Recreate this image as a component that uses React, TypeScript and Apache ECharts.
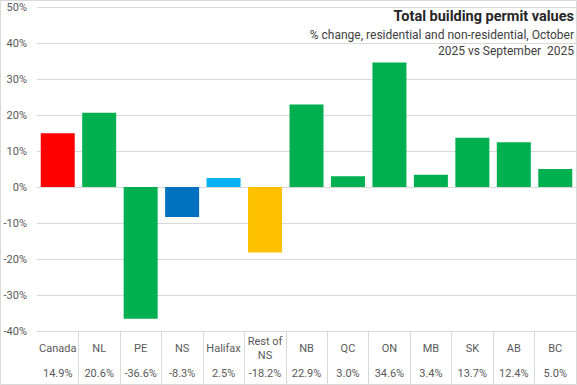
import React, { useEffect, useRef } from "react";
import * as echarts from "echarts";

const categories = ["Canada", "NL", "PE", "NS", "Halifax", "Rest of NS", "NB", "QC", "ON", "MB", "SK", "AB", "BC"];
const values = [14.9, 20.6, -36.6, -8.3, 2.5, -18.2, 22.9, 3.0, 34.6, 3.4, 13.7, 12.4, 5.0];
const barColors = ["#FF0000", "#00B050", "#00B050", "#0070C0", "#00B0F0", "#FFC000", "#00B050", "#00B050", "#00B050", "#00B050", "#00B050", "#00B050", "#00B050"];
const yTicks = { min: -40, max: 50, interval: 10 };
const titleText = "Total building permit values";
const subtitleLines = ["% change, residential and non-residential, October", "2025 vs September  2025"];

const FONT = "Roboto, 'Noto Sans', sans-serif";

export default function App() {
  const ref = useRef<HTMLDivElement>(null);
  useEffect(() => {
    document.body.style.margin = "0";
    if (!ref.current) return;
    const chart = echarts.init(ref.current, undefined, { renderer: "svg" });
    const gridColor = "#d9d9d9";
    const labelColor = "#595959";
    chart.setOption({
      animation: false,
      textStyle: { fontFamily: FONT },
      grid: { left: 37, right: 1, top: 7, bottom: 54, containLabel: false },
      xAxis: [
        {
          type: "category",
          data: categories,
          position: "bottom",
          axisLine: { show: true, onZero: false, lineStyle: { color: gridColor } },
          axisTick: {
            show: true,
            length: 53,
            interval: (i: number) => i !== 0,
            lineStyle: { color: gridColor },
          },
          axisLabel: {
            interval: 0,
            margin: 17,
            verticalAlign: "middle",
            lineHeight: 14,
            fontSize: 11,
            color: labelColor,
            fontFamily: FONT,
            formatter: (v: string) => v.replace("Rest of ", "Rest of\n"),
          },
        },
        {
          type: "category",
          data: categories,
          position: "bottom",
          offset: 52,
          axisLine: { show: false, onZero: false },
          axisTick: { show: false },
          axisLabel: {
            interval: 0,
            margin: -10,
            verticalAlign: "middle",
            fontSize: 11,
            color: labelColor,
            fontFamily: FONT,
            formatter: (_v: string, i: number) => values[i].toFixed(1) + "%",
          },
        },
      ],
      yAxis: {
        type: "value",
        min: yTicks.min,
        max: yTicks.max,
        interval: yTicks.interval,
        axisLine: { show: false },
        axisTick: { show: false },
        splitLine: { lineStyle: { color: gridColor } },
        axisLabel: { formatter: "{value}%", fontSize: 11, color: labelColor, margin: 10, fontFamily: FONT },
      },
      series: [
        {
          type: "bar",
          xAxisIndex: 0,
          data: values.map((v, i) => ({ value: v, itemStyle: { color: barColors[i] } })),
          barCategoryGap: "18%",
        },
      ],
      graphic: [
        {
          type: "rect",
          shape: { x: 0.5, y: 0.5, width: 576, height: 384 },
          style: { fill: "none", stroke: gridColor, lineWidth: 1 },
          silent: true,
        },
        {
          type: "text",
          x: 574,
          y: 16,
          style: { text: titleText, textAlign: "right", textVerticalAlign: "middle", fontSize: 14.5, fontWeight: "bold", fill: "#262626", fontFamily: FONT },
        },
        {
          type: "text",
          x: 574,
          y: 35,
          style: { text: subtitleLines[0], textAlign: "right", textVerticalAlign: "middle", fontSize: 12, fill: "#404040", fontFamily: FONT },
        },
        {
          type: "text",
          x: 574,
          y: 51,
          style: { text: subtitleLines[1], textAlign: "right", textVerticalAlign: "middle", fontSize: 12, fill: "#404040", fontFamily: FONT },
        },
      ],
    });
    return () => chart.dispose();
  }, []);
  return <div ref={ref} style={{ width: 577, height: 385 }} />;
}
